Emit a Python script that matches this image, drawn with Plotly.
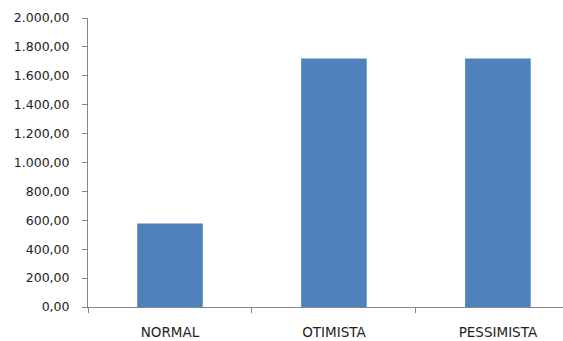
import plotly.graph_objects as go

categories = ["NORMAL", "OTIMISTA", "PESSIMISTA"]
values = [577, 1719, 1719]
y_ticks = [0, 200, 400, 600, 800, 1000, 1200, 1400, 1600, 1800, 2000]

fig = go.Figure(go.Bar(
    x=categories, y=values, marker_color="#4f81bd", width=0.4,
    marker_line_width=0,
))

fig.update_layout(
    width=563, height=341,
    margin=dict(l=88, r=0, t=18, b=34),
    paper_bgcolor="white", plot_bgcolor="white",
    separators=",.",
    font=dict(family="DejaVu Sans", size=12.5, color="#222222"),
    showlegend=False,
    bargap=0.6,
)
fig.update_xaxes(
    range=[-0.5, 2.397],
    showline=True, linecolor="#868686", linewidth=1,
    ticks="outside", ticklen=5, tickcolor="#868686",
    tickson="boundaries",
    showgrid=False, zeroline=False,
    ticklabelstandoff=13,
    tickfont=dict(size=13.5),
)
fig.update_yaxes(
    range=[0, 2000],
    tickvals=y_ticks, tickformat=",.2f",
    showline=True, linecolor="#868686", linewidth=1,
    ticks="outside", ticklen=5, tickcolor="#868686",
    showgrid=False, zeroline=False,
    ticklabelstandoff=10,
)

fig.write_html("out.html")
